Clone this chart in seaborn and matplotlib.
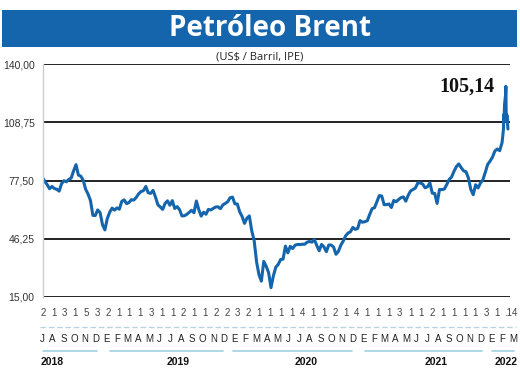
import matplotlib
import numpy as np
import pandas as pd
import seaborn as sns

matplotlib.use("Agg")
import matplotlib.pyplot as plt
from matplotlib.lines import Line2D
from matplotlib.patches import Rectangle

# Brent, US$/barril, cierre semanal (viernes) y diario en marzo 2022
brent_2018 = [79.2, 77.1, 75.3, 73.1, 74.3, 73.2, 72.8, 71.8, 75.8, 77.4, 76.8, 78.1, 78.8,
              82.7, 86.0, 80.4, 79.8, 77.6, 72.8, 70.2, 66.8, 58.8, 58.7, 61.7, 60.3, 53.8, 51.0]
brent_2019 = [57.1, 60.5, 62.7, 61.6, 62.8, 62.1, 66.3, 67.1, 65.1, 65.7, 67.2, 67.0, 68.4,
              70.3, 71.6, 72.0, 74.3, 70.9, 70.6, 72.2, 68.7, 64.5, 63.3, 62.0, 65.2, 66.6,
              64.2, 66.7, 62.5, 63.5, 61.9, 58.5, 58.6, 59.3, 60.4, 61.5, 60.2, 66.5, 61.9,
              58.4, 60.5, 59.4, 62.0, 61.7, 62.5, 63.3, 63.4, 62.4, 64.4, 65.2, 66.1, 68.2]
brent_2020 = [68.6, 65.0, 64.9, 60.7, 58.2, 54.5, 57.3, 58.5, 50.5, 45.3, 33.9, 27.0, 23.5,
              34.1, 31.5, 28.1, 20.0, 26.4, 31.0, 32.5, 35.1, 35.3, 42.3, 38.7, 42.2, 41.0,
              42.8, 43.2, 43.1, 43.3, 43.3, 44.4, 44.8, 44.4, 45.8, 42.7, 39.8, 43.2, 41.9,
              39.3, 42.9, 42.9, 41.8, 37.9, 39.5, 42.8, 45.0, 47.8, 49.3, 50.0, 52.3, 51.3]
brent_2021 = [51.8, 56.0, 55.1, 55.4, 55.9, 59.3, 62.4, 62.9, 66.1, 69.4, 69.2, 64.5, 64.6,
              64.9, 63.0, 66.8, 66.1, 67.3, 68.3, 68.7, 66.4, 69.6, 71.9, 72.7, 73.5, 76.2,
              76.2, 75.6, 73.6, 74.1, 76.3, 70.7, 70.6, 65.2, 72.7, 72.6, 72.9, 75.3, 78.1,
              79.3, 82.4, 84.9, 86.4, 84.4, 82.7, 82.2, 78.9, 72.7, 69.9, 75.2, 73.5, 76.1, 77.8]
brent_2022 = [81.8, 86.1, 87.9, 90.0, 93.3, 94.4, 93.5, 97.9]
march_days = ["2022-03-01", "2022-03-02", "2022-03-03", "2022-03-04", "2022-03-07",
              "2022-03-08", "2022-03-09", "2022-03-10", "2022-03-11", "2022-03-14"]
brent_march = [105.0, 112.9, 110.5, 118.1, 123.2, 128.0, 111.1, 109.3, 112.7, 105.14]

y_ticks = [15.0, 46.25, 77.5, 108.75, 140.0]
month_letters = list("JASOND") + list("EFMAMJJASOND") * 3 + list("EFM")
day_marks = ["2", "1", "3", "1", "5", "3", "2", "1", "1", "1", "3", "1", "1", "2", "1",
             "1", "2", "2", "3", "2", "1", "1", "1", "1", "4", "1", "1", "2", "1", "4",
             "1", "1", "1", "3", "1", "1", "2", "1", "1", "1", "1", "3", "1", ".14"]
years = ["2018", "2019", "2020", "2021", "2022"]

BLUE = "#1565ad"
W, H = 520, 377


def fx(px):
    return px / W


def fy(py):
    return 1 - py / H


weekly = brent_2018 + brent_2019 + brent_2020 + brent_2021 + brent_2022
weekly_dates = pd.date_range("2018-06-29", periods=len(weekly), freq="W-FRI")
df = pd.DataFrame({
    "fecha": list(weekly_dates) + list(pd.to_datetime(march_days)),
    "brent": weekly + brent_march,
})

sns.set_theme(style="white")
plt.rcParams["font.family"] = ["Liberation Sans", "DejaVu Sans"]

fig = plt.figure(figsize=(W / 100, H / 100), dpi=100)
ax = fig.add_axes([fx(43), fy(297), fx(510) - fx(43), fy(64) - fy(297)])

sns.lineplot(data=df, x="fecha", y="brent", color=BLUE, linewidth=2.2, ax=ax)

ax.set_xlim(pd.Timestamp("2018-07-01"), pd.Timestamp("2022-03-20"))
ax.set_ylim(15, 140)
ax.set_yticks(y_ticks)
ax.set_yticklabels([f"{v:.2f}".replace(".", ",") for v in y_ticks], fontsize=7.5, color="#333333")
ax.set_xticks([])
ax.set_xlabel("")
ax.set_ylabel("")
ax.tick_params(axis="y", length=0, pad=6)
ax.yaxis.grid(True, color="#111111", linewidth=1.3)
ax.set_axisbelow(True)
for side in ["top", "right", "bottom"]:
    ax.spines[side].set_visible(False)
ax.spines["left"].set_color("#cccccc")
ax.spines["left"].set_linewidth(1.0)

ax.text(0.967, 0.905, "105,14", transform=ax.transAxes, ha="right", va="center",
        fontsize=14.5, fontweight="bold", family=["Liberation Serif", "DejaVu Serif"], color="#111111")

# banner
fig.add_artist(Rectangle((fx(2), fy(47)), fx(515), 37 / H, transform=fig.transFigure,
                         facecolor=BLUE, edgecolor="none"))
fig.text(fx(270), fy(29), "Petróleo Brent", ha="center", va="center", color="white",
         fontsize=20, fontweight="bold", family=["Open Sans", "DejaVu Sans"])
fig.text(fx(260), fy(57), "(US$ / Barril, IPE)", ha="center", va="center", fontsize=8,
         family=["Open Sans", "DejaVu Sans"], color="#222222")

# bottom month rows
mark_x = list(np.linspace(43, 497, len(day_marks) - 1)) + [511]
for x, t in zip(mark_x, day_marks):
    fig.text(fx(x), fy(313), t, ha="center", va="center", fontsize=7, color="#444444")
fig.add_artist(Line2D([fx(40), fx(516)], [fy(327), fy(327)], transform=fig.transFigure,
                      color="#b9d3df", linewidth=1.0, linestyle=(0, (4, 2))))
for x, t in zip(np.linspace(42, 513, len(month_letters)), month_letters):
    fig.text(fx(x), fy(339), t, ha="center", va="center", fontsize=7, color="#222222")

for x0, x1 in [(43, 97), (110, 223), (233, 352), (365, 482), (492, 514)]:
    fig.add_artist(Line2D([fx(x0), fx(x1)], [fy(351), fy(351)], transform=fig.transFigure,
                          color="#9fd0e0", linewidth=1.2))
for x, t in zip([52, 178, 306, 436, 506], years):
    fig.text(fx(x), fy(362), t, ha="center", va="center", fontsize=7.5, fontweight="bold",
             color="#111111")

fig.savefig("out.png", dpi=100)
